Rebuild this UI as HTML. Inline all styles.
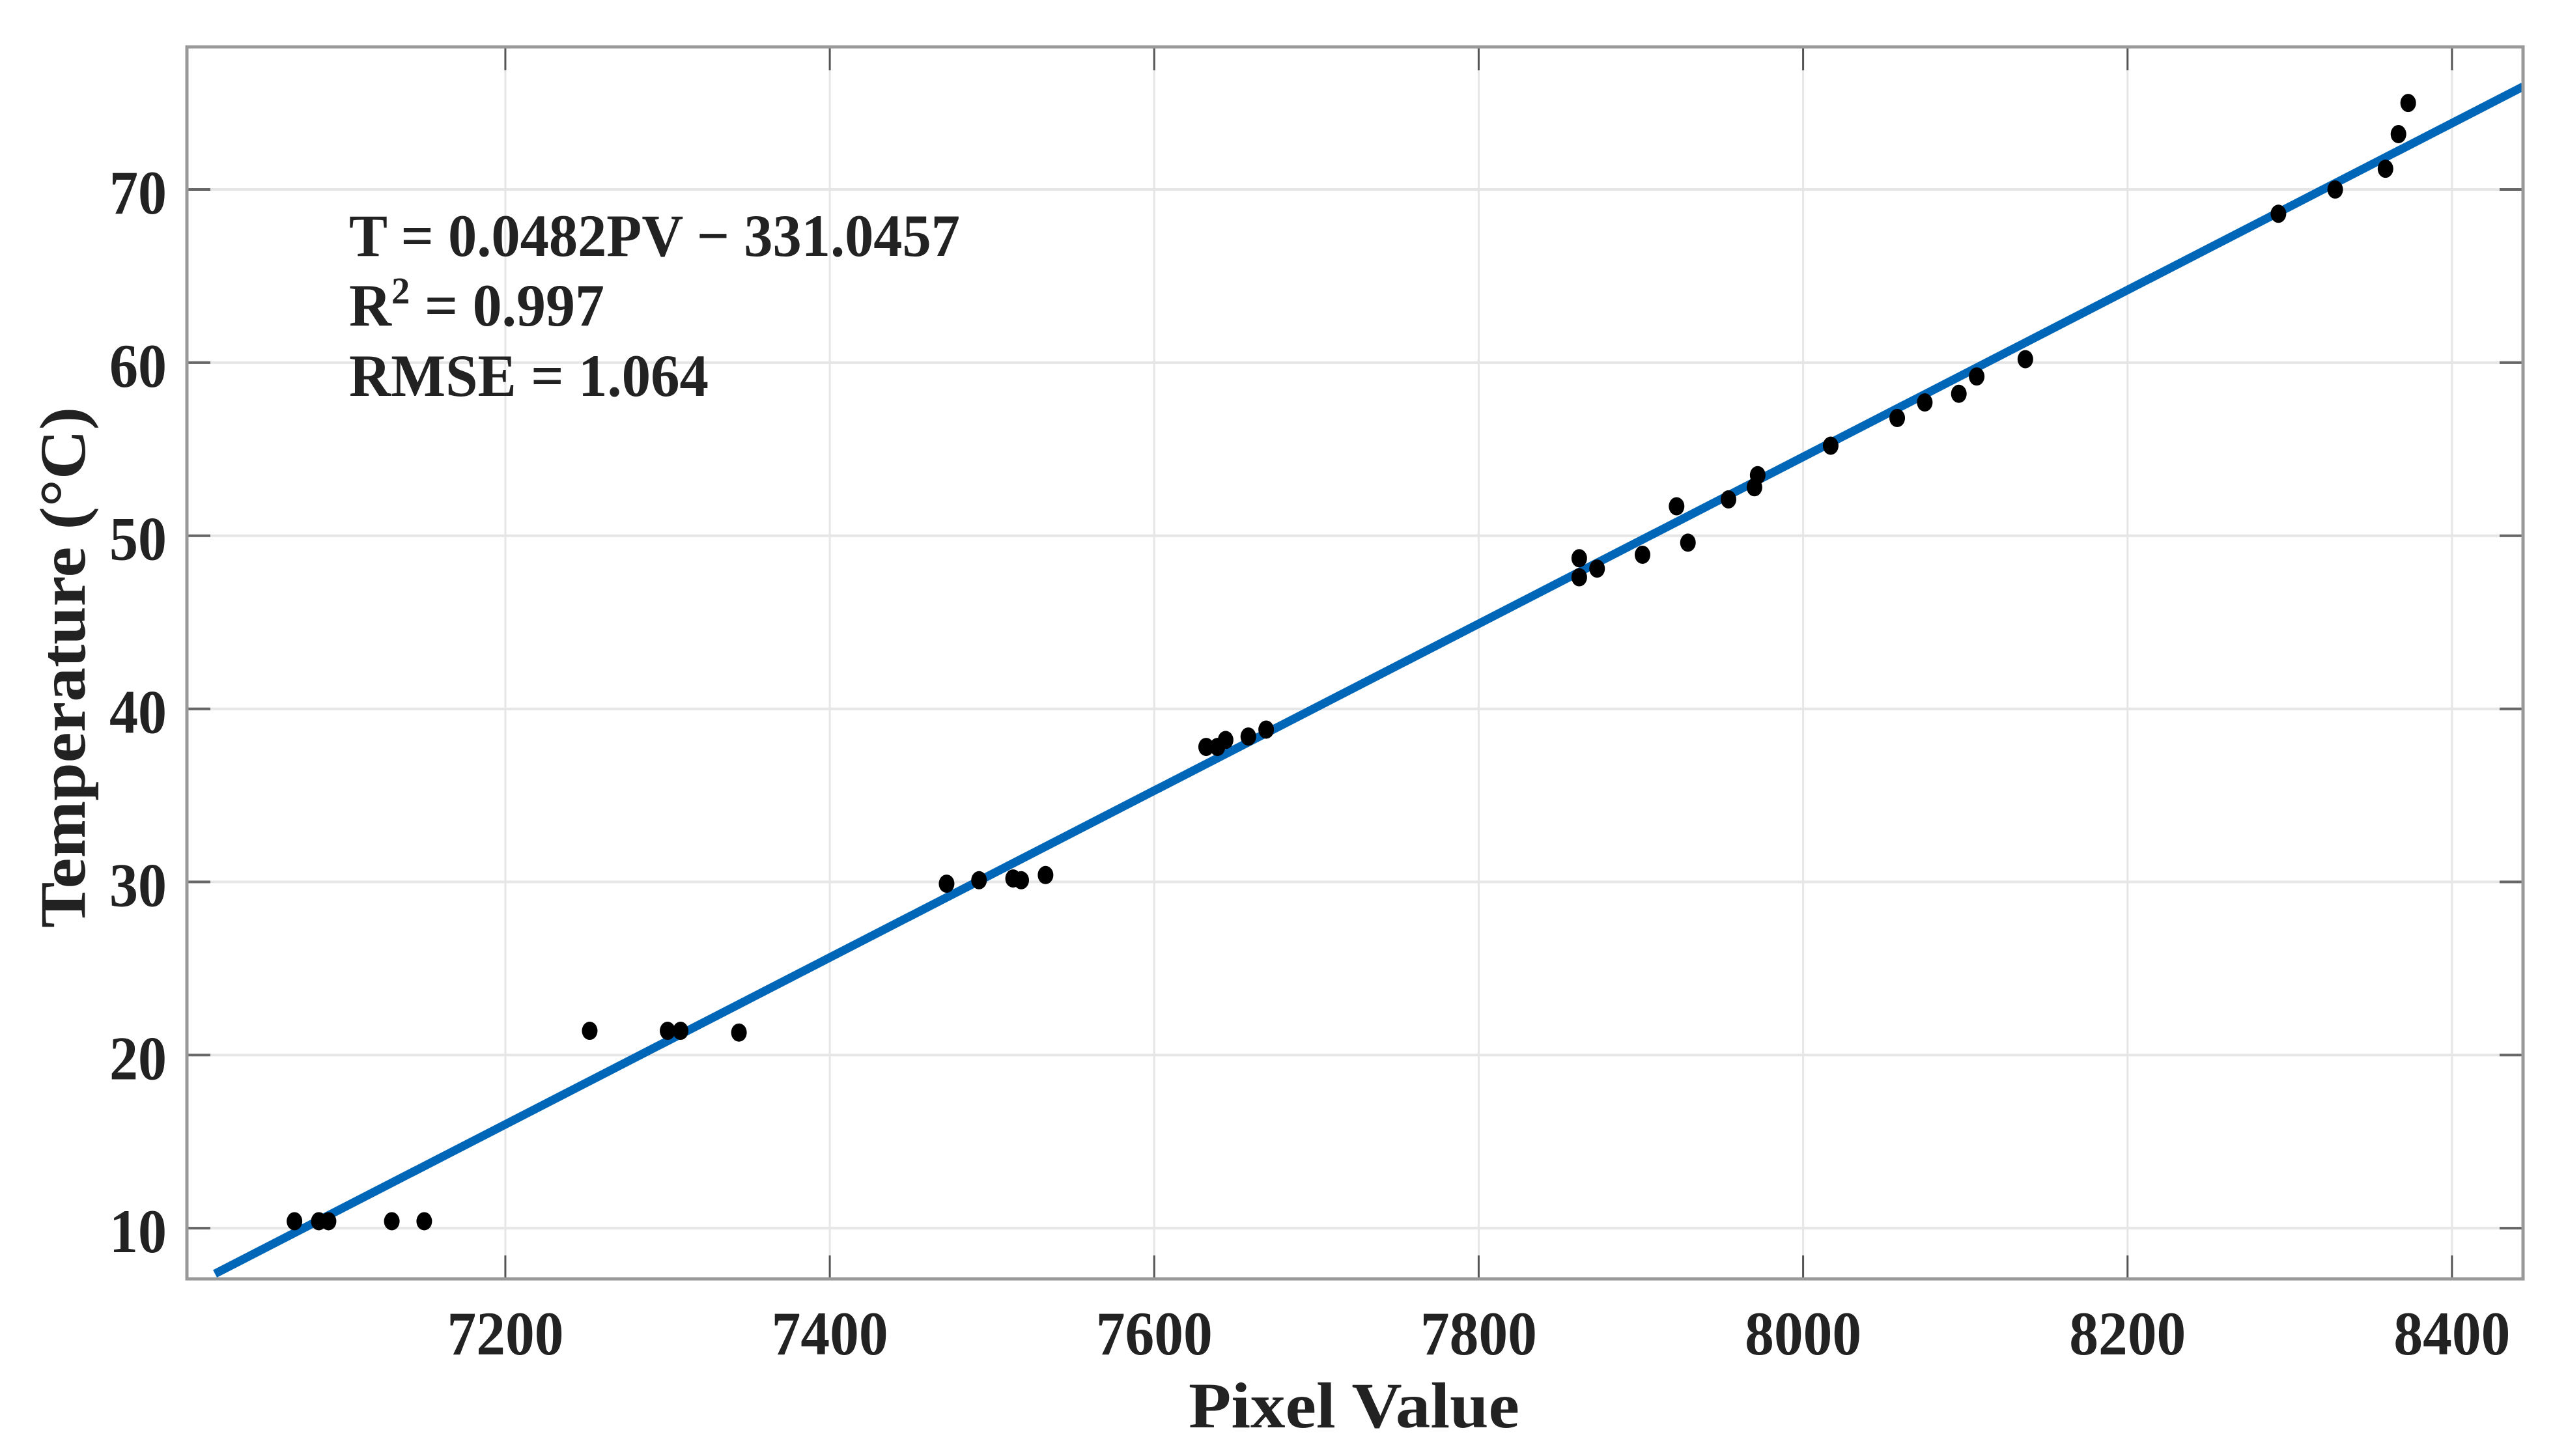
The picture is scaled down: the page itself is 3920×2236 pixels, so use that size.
<!DOCTYPE html>
<html><head><meta charset="utf-8"><style>
html,body{margin:0;padding:0;background:#fff;}
svg{display:block;}
text{font-family:"Liberation Serif",serif;font-weight:bold;fill:#222;}
</style></head><body>
<svg id="chart" width="3920" height="2236" viewBox="0 0 3920 2236" xmlns="http://www.w3.org/2000/svg">
<g id="grid"></g>
<g id="fit"></g>
<g id="pts"></g>
<g id="axes"></g>
<g>
<text x="536" y="393" font-size="92" textLength="938" lengthAdjust="spacingAndGlyphs">T = 0.0482PV − 331.0457</text>
<text x="536" y="500" font-size="92" textLength="392" lengthAdjust="spacingAndGlyphs">R<tspan font-size="58" dy="-34">2</tspan><tspan dy="34"> = 0.997</tspan></text>
<text x="536" y="608" font-size="92" textLength="552" lengthAdjust="spacingAndGlyphs">RMSE = 1.064</text>
</g>
<text x="2079" y="2192" font-size="100" text-anchor="middle" textLength="508" lengthAdjust="spacingAndGlyphs">Pixel Value</text>
<text x="0" y="0" font-size="100" text-anchor="middle" transform="translate(130,1025) rotate(-90)" textLength="800" lengthAdjust="spacingAndGlyphs">Temperature (°C)</text>
</svg>
<script>
const xTicks = [7200, 7400, 7600, 7800, 8000, 8200, 8400];
const yTicks = [10, 20, 30, 40, 50, 60, 70];
const pixelValues = [7070,7085,7091,7130,7150,7252,7300,7308,7344,7472,7492,7513,7518,7533,7632,7639,7644,7658,7669,7862,7862,7873,7901,7922,7929,7954,7970,7972,8017,8058,8075,8096,8107,8137,8293,8328,8359,8367,8373];
const temperatures = [10.4,10.4,10.4,10.4,10.4,21.4,21.4,21.4,21.3,29.9,30.1,30.2,30.1,30.4,37.8,37.8,38.2,38.4,38.8,48.7,47.6,48.1,48.9,51.7,49.6,52.1,52.8,53.5,55.2,56.8,57.7,58.2,59.2,60.2,68.6,70.0,71.2,73.2,75.0];
const fitSlope = 0.0482;
const fitIntercept = -331.0457;

const L=287, R=3874, T=72, B=1964;
const xMin=7003.7, xMax=8443.8, yMin=7.07, yMax=78.24;
const sx = v => L + (v - xMin) / (xMax - xMin) * (R - L);
const sy = v => B - (v - yMin) / (yMax - yMin) * (B - T);
const NS='http://www.w3.org/2000/svg';
function mk(tag, attrs, parent){const e=document.createElementNS(NS,tag);for(const k in attrs)e.setAttribute(k,attrs[k]);parent.appendChild(e);return e;}
const grid=document.getElementById('grid'), axes=document.getElementById('axes'), fit=document.getElementById('fit'), pts=document.getElementById('pts');

xTicks.forEach(v=>{
  const x=sx(v);
  const g=mk('line',{x1:x,x2:x,y1:T,y2:B,stroke:'#e6e6e6','stroke-width':3},grid);
  
  
  const t1=mk('line',{x1:x,x2:x,y1:B,y2:B-36,stroke:'#555','stroke-width':3},axes);
  
  
  const t2=mk('line',{x1:x,x2:x,y1:T,y2:T+36,stroke:'#555','stroke-width':3},axes);
  
  
  const lb=mk('text',{x:x,y:2080,'font-size':95,'text-anchor':'middle',textLength:179,lengthAdjust:'spacingAndGlyphs'},axes);
  lb.textContent=v;
  
  
});
yTicks.forEach(v=>{
  const y=sy(v);
  const g=mk('line',{x1:L,x2:R,y1:y,y2:y,stroke:'#e6e6e6','stroke-width':4},grid);
  
  
  const t1=mk('line',{x1:L,x2:L+36,y1:y,y2:y,stroke:'#666','stroke-width':4},axes);
  
  
  const t2=mk('line',{x1:R,x2:R-36,y1:y,y2:y,stroke:'#666','stroke-width':4},axes);
  
  
  const lb=mk('text',{x:256,y:y+37,'font-size':95,'text-anchor':'end',textLength:88,lengthAdjust:'spacingAndGlyphs'},axes);
  lb.textContent=v;
  
  
});
const box=mk('rect',{x:L,y:T,width:R-L,height:B-T,fill:'none',stroke:'#999','stroke-width':5},axes);



const clip=mk('clipPath',{id:'pc'},document.getElementById('chart'));
mk('rect',{x:L,y:T,width:R-L,height:B-T+30},clip);
const x0=7021, x1=xMax;
const fl=mk('line',{x1:sx(x0),y1:sy(fitSlope*x0+fitIntercept),x2:sx(x1),y2:sy(fitSlope*x1+fitIntercept),stroke:'#0066b8','stroke-width':13,'clip-path':'url(#pc)'},fit);



pixelValues.forEach((v,i)=>{
  const c=mk('ellipse',{cx:sx(v),cy:sy(temperatures[i]),rx:12,ry:14,fill:'#000'},pts);
  
  
});
</script>
</body></html>
